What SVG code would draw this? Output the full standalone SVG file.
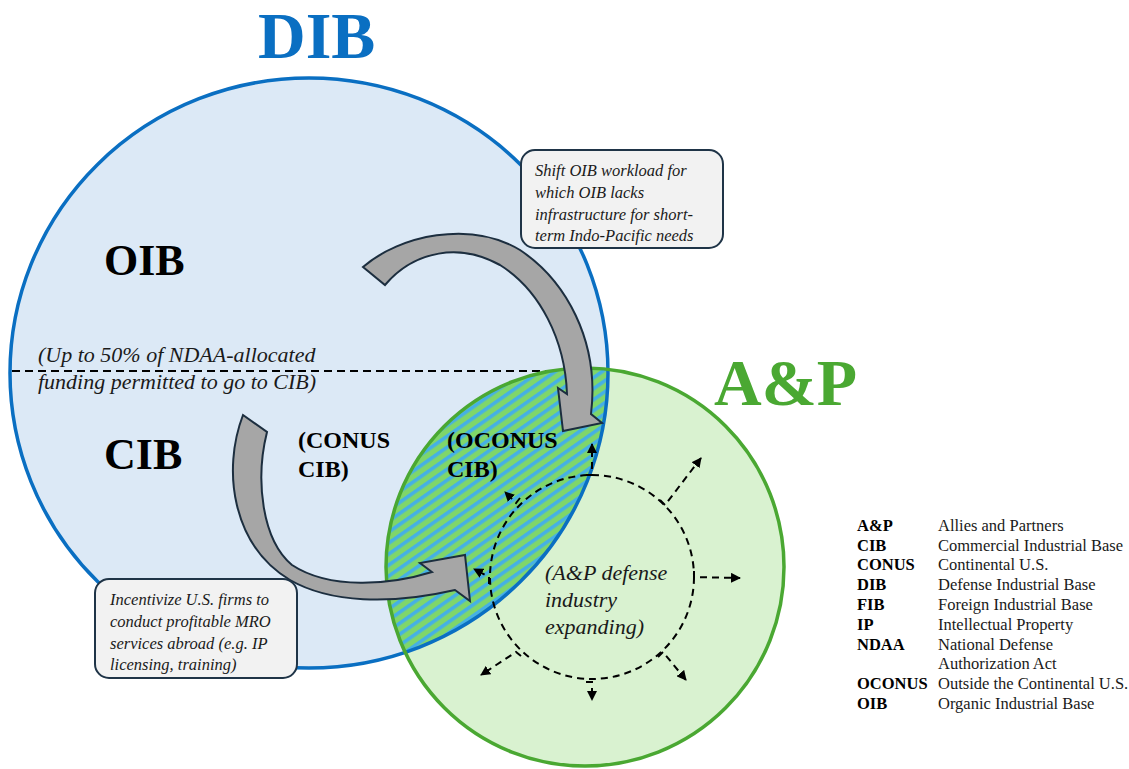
<svg xmlns="http://www.w3.org/2000/svg" width="1129" height="769" viewBox="0 0 1129 769">
<style>
.title{font-family:"Liberation Serif",serif;font-weight:bold;font-size:66px;}
.big{font-family:"Liberation Serif",serif;font-weight:bold;font-size:44px;fill:#000;}
.mid{font-family:"Liberation Serif",serif;font-weight:bold;font-size:24px;fill:#000;}
.it{font-family:"Liberation Serif",serif;font-style:italic;font-size:22px;fill:#1a1a1a;}
.call{font-family:"Liberation Serif",serif;font-style:italic;font-size:16.5px;fill:#1a1a1a;}
.lk{font-family:"Liberation Serif",serif;font-weight:bold;font-size:16.5px;fill:#000;}
.lv{font-family:"Liberation Serif",serif;font-size:16.5px;fill:#1a1a1a;}
.box{fill:#f2f2f2;stroke:#1f3447;stroke-width:2;}
.garrow{fill:#a6a6a6;stroke:#1c2e3f;stroke-width:2;stroke-linejoin:miter;}
.dash{fill:none;stroke:#000;stroke-width:2;stroke-dasharray:7 5;}
</style>
<defs>
<pattern id="stripes" patternUnits="userSpaceOnUse" width="9" height="9" patternTransform="rotate(-35)">
<rect width="9" height="9" fill="#7fd66a"/>
<rect width="9" height="3.6" fill="#45b0e5"/>
</pattern>
<clipPath id="clipDIB"><ellipse cx="309" cy="373" rx="299" ry="295"/></clipPath>
<marker id="ah" viewBox="0 0 10 10" refX="9" refY="5" markerWidth="5" markerHeight="5" orient="auto" markerUnits="strokeWidth">
<path d="M0,0 L10,5 L0,10 Z" fill="#000"/>
</marker>
</defs>
<rect width="1129" height="769" fill="#fff"/>

<g id="DIB">
<ellipse cx="309" cy="373" rx="299" ry="295" fill="#dce9f6"/>
<text class="title" x="258" y="58" fill="#0a6fc2">DIB</text>
</g>

<g id="divider">
<line x1="12" y1="371" x2="560" y2="371" stroke="#000" stroke-width="2" stroke-dasharray="8 5"/>
<text class="it" x="38" y="362">(Up to 50% of NDAA-allocated</text>
<text class="it" x="38" y="389">funding permitted to go to CIB)</text>
</g>

<g id="AP">
<circle cx="585" cy="567" r="199" fill="#d9f2d0"/>
<text class="title" x="714" y="405" fill="#4aa832">A&amp;P</text>
</g>

<g id="overlap" clip-path="url(#clipDIB)">
<circle cx="585" cy="567" r="199" fill="url(#stripes)"/>
</g>

<g id="outlines">
<ellipse cx="309" cy="373" rx="299" ry="295" fill="none" stroke="#0a6fc2" stroke-width="3.5"/>
<circle cx="585" cy="567" r="199" fill="none" stroke="#4aa832" stroke-width="3.5"/>
</g>

<g id="labels">
<text class="big" x="104" y="275">OIB</text>
<text class="big" x="104" y="469">CIB</text>
<text class="mid" x="298" y="448">(CONUS</text>
<text class="mid" x="298" y="477">CIB)</text>
<text class="mid" x="447" y="448">(OCONUS</text>
<text class="mid" x="447" y="477">CIB)</text>
</g>

<g id="connectors">
<path class="garrow" d="M363,267 C400,235 470,220 520,250 C565,280 600,340 591,414 L602,423 L563,431 L558,388 L567,394 C565,340 540,290 500,265 C460,243 415,250 385,285 Z"/>
<path class="garrow" d="M243,415 C222,470 232,545 290,580 C330,603 390,605 455,590 L470,601 L465,555 L420,563 L432,572 C390,585 330,590 292,565 C262,540 255,480 267,432 Z"/>
</g>

<g id="expansion">
<circle class="dash" cx="592" cy="577" r="102"/>
<path class="dash" d="M586,475 L592,475 L592,444" marker-end="url(#ah)"/>
<path class="dash" d="M660,500 L665,505 L701,458" marker-end="url(#ah)"/>
<path class="dash" d="M694,571 L694,577 L740,578" marker-end="url(#ah)"/>
<path class="dash" d="M658,657 L663,652 L686,680" marker-end="url(#ah)"/>
<path class="dash" d="M586,682 L592,682 L592,700" marker-end="url(#ah)"/>
<path class="dash" d="M521,656 L516,652 L481,675" marker-end="url(#ah)"/>
<path class="dash" d="M489,584 L489,577 L474,569" marker-end="url(#ah)"/>
<path class="dash" d="M520,498 L516,503 L505,492" marker-end="url(#ah)"/>
<text class="it" x="545" y="580">(A&amp;P defense</text>
<text class="it" x="545" y="607">industry</text>
<text class="it" x="545" y="634">expanding)</text>
</g>

<g id="callout1">
<rect class="box" x="521" y="150" width="202" height="98" rx="14"/>
<text class="call" x="535" y="176">Shift OIB workload for</text>
<text class="call" x="535" y="198">which OIB lacks</text>
<text class="call" x="535" y="220">infrastructure for short-</text>
<text class="call" x="535" y="241">term Indo-Pacific needs</text>
</g>

<g id="callout2">
<rect class="box" x="95" y="579" width="202" height="99" rx="14"/>
<text class="call" x="110" y="605">Incentivize U.S. firms to</text>
<text class="call" x="110" y="627">conduct profitable MRO</text>
<text class="call" x="110" y="649">services abroad (e.g. IP</text>
<text class="call" x="110" y="670">licensing, training)</text>
</g>

<g id="legend">
<text class="lk" x="857" y="531">A&amp;P</text><text class="lv" x="938" y="531">Allies and Partners</text>
<text class="lk" x="857" y="551">CIB</text><text class="lv" x="938" y="551">Commercial Industrial Base</text>
<text class="lk" x="857" y="570">CONUS</text><text class="lv" x="938" y="570">Continental U.S.</text>
<text class="lk" x="857" y="590">DIB</text><text class="lv" x="938" y="590">Defense Industrial Base</text>
<text class="lk" x="857" y="610">FIB</text><text class="lv" x="938" y="610">Foreign Industrial Base</text>
<text class="lk" x="857" y="630">IP</text><text class="lv" x="938" y="630">Intellectual Property</text>
<text class="lk" x="857" y="650">NDAA</text><text class="lv" x="938" y="650">National Defense</text>
<text class="lv" x="938" y="669">Authorization Act</text>
<text class="lk" x="857" y="689">OCONUS</text><text class="lv" x="938" y="689">Outside the Continental U.S.</text>
<text class="lk" x="857" y="709">OIB</text><text class="lv" x="938" y="709">Organic Industrial Base</text>
</g>
</svg>
